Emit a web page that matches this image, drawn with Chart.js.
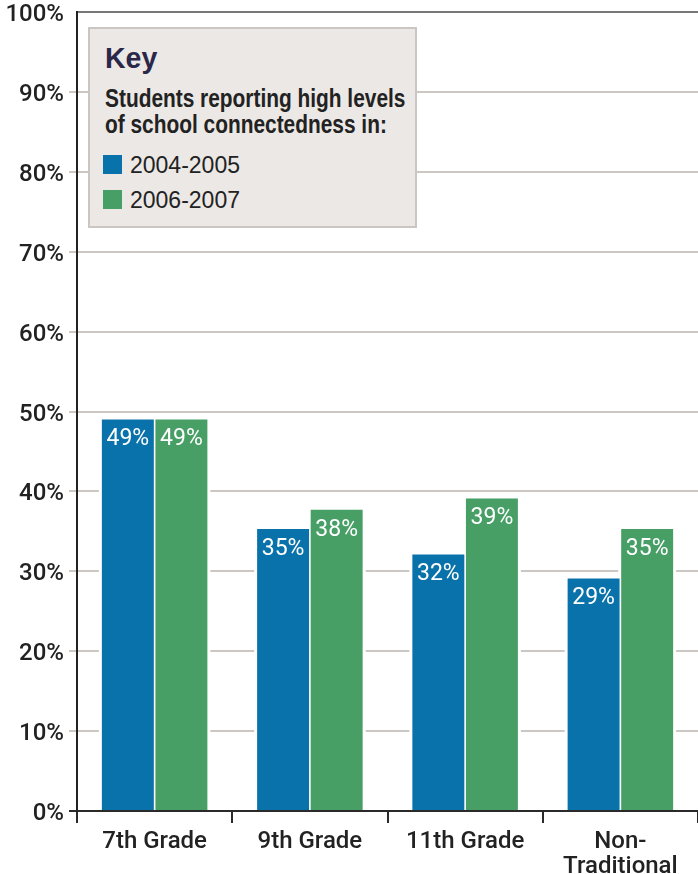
<!DOCTYPE html>
<html>
<head>
<meta charset="utf-8">
<script src="https://cdn.jsdelivr.net/npm/chart.js@4.4.1/dist/chart.umd.min.js"></script>
<style>
    html, body { margin: 0; padding: 0; background: #fff; }
    #wrap { position: relative; width: 698px; height: 874px; overflow: hidden; }
    #key {
        position: absolute; left: 88px; top: 27px; width: 329px; height: 201px;
        box-sizing: border-box; border: 2px solid #cbc6c1; background: #ebe8e5;
        color: #222;
    }
    #key div { position: absolute; white-space: nowrap; }
    .key-title { font: bold 30px/30px 'Liberation Sans', sans-serif; color: #2b2748; transform: scaleX(0.95); transform-origin: 0 0; }
    .key-note { font: bold 25px/26px 'Liberation Sans', sans-serif; transform: scaleX(0.835); transform-origin: 0 0; }
    .key-swatch { width: 19px; height: 19px; }
    .key-label { font: 23px/23px 'Liberation Sans', sans-serif; }
</style>
</head>
<body>
<div id="wrap">
    <canvas id="chart"></canvas>
    <div id="key"></div>
</div>
<script>
const CATEGORIES = ['7th Grade', '9th Grade', '11th Grade', ['Non-', 'Traditional']]
const SERIES_NAMES = ['2004-2005', '2006-2007']
const VALUES_2004 = [49, 35.3, 32.1, 29.1]
const VALUES_2006 = [49, 37.7, 39.1, 35.3]
const Y_TICKS = [0, 10, 20, 30, 40, 50, 60, 70, 80, 90, 100]
const KEY_TITLE = 'Key'
const KEY_NOTE = ['Students reporting high levels', 'of school connectedness in:']

const BLUE = '#0a72aa'
const GREEN = '#479f66'

// white gap round each bar so the grid lines stop short of it
const barHalo = {
    id: 'barHalo',
    beforeDatasetsDraw(chart) {
        const ctx = chart.ctx
        ctx.save()
        ctx.fillStyle = '#fff'
        chart.data.datasets.forEach((ds, i) => {
            chart.getDatasetMeta(i).data.forEach(bar => {
                const w = bar.width
                ctx.fillRect(bar.x - w / 2 - 3, bar.y - 2, w + 6, bar.base - bar.y + 1)
            })
        })
        ctx.restore()
    }
}

const barLabels = {
    id: 'barLabels',
    afterDatasetsDraw(chart) {
        const ctx = chart.ctx
        ctx.save()
        ctx.fillStyle = '#fff'
        ctx.font = "23px Roboto, sans-serif"
        ctx.textAlign = 'center'
        ctx.textBaseline = 'middle'
        chart.data.datasets.forEach((ds, i) => {
            chart.getDatasetMeta(i).data.forEach((bar, j) => {
                ctx.fillText(`${Math.round(ds.data[j])}%`, bar.x, bar.y + 20)
            })
        })
        ctx.restore()
    }
}

function buildKey(chart) {
    const key = document.querySelector('#key')
    const add = (cls, text, left, top, bg) => {
        const el = document.createElement('div')
        el.className = cls
        el.style.left = left + 'px'
        el.style.top = top + 'px'
        if (text) el.textContent = text
        if (bg) el.style.background = bg
        key.appendChild(el)
    }
    add('key-title', KEY_TITLE, 15, 14)
    KEY_NOTE.forEach((line, i) => add('key-note', line, 15, 56 + i * 26))
    chart.data.datasets.forEach((ds, i) => {
        add('key-swatch', '', 13, 126 + i * 35, ds.backgroundColor)
        add('key-label', ds.label, 40, 125 + i * 35)
    })
}

document.addEventListener('DOMContentLoaded', () => {
    const chart = new Chart(document.querySelector('#chart'), {
        type: 'bar',
        data: {
            labels: CATEGORIES,
            datasets: [
                { label: SERIES_NAMES[0], data: VALUES_2004, backgroundColor: BLUE },
                { label: SERIES_NAMES[1], data: VALUES_2006, backgroundColor: GREEN }
            ]
        },
        options: {
            responsive: true,
            maintainAspectRatio: false,
            animation: false,
            layout: { padding: { top: 12, right: 0, left: 0, bottom: 0 } },
            datasets: {
                bar: { categoryPercentage: 0.69, barPercentage: 0.97 }
            },
            plugins: {
                legend: { display: false },
                tooltip: { enabled: false }
            },
            scales: {
                x: {
                    afterFit: scale => { scale.height = 63 },
                    grid: {
                        offset: true,
                        drawOnChartArea: false,
                        tickLength: 12,
                        lineWidth: 2,
                        color: ctx => ctx.index === CATEGORIES.length ? 'rgba(0,0,0,0)' : '#2a2a2a'
                    },
                    border: { display: true, color: '#2a2a2a', width: 2 },
                    ticks: {
                        autoSkip: false,
                        maxRotation: 0,
                        padding: 6,
                        color: '#222',
                        font: { family: 'Roboto, sans-serif', size: 24, weight: '500', lineHeight: 1.05 }
                    }
                },
                y: {
                    min: 0,
                    max: 100,
                    afterFit: scale => {
                        scale.width = 77
                        scale.paddingTop = 0
                        scale.paddingBottom = 0
                    },
                    afterBuildTicks: scale => { scale.ticks = Y_TICKS.map(v => ({ value: v })) },
                    grid: {
                        lineWidth: 2,
                        tickLength: 8,
                        color: ctx => ctx.tick.value === 0 ? '#2a2a2a' : ctx.tick.value === 100 ? '#777' : '#ccc7c2',
                        tickColor: ctx => ctx.tick.value === 0 ? '#2a2a2a' : ctx.tick.value === 100 ? 'rgba(0,0,0,0)' : '#ccc7c2'
                    },
                    border: { display: true, color: '#222', width: 2 },
                    ticks: {
                        padding: 5,
                        labelOffset: 3,
                        color: '#222',
                        font: { family: 'Roboto, sans-serif', size: 24, weight: '500' },
                        callback: v => `${v}%`
                    }
                }
            }
        },
        plugins: [barHalo, barLabels]
    })
    buildKey(chart)
})
</script>
</body>
</html>
